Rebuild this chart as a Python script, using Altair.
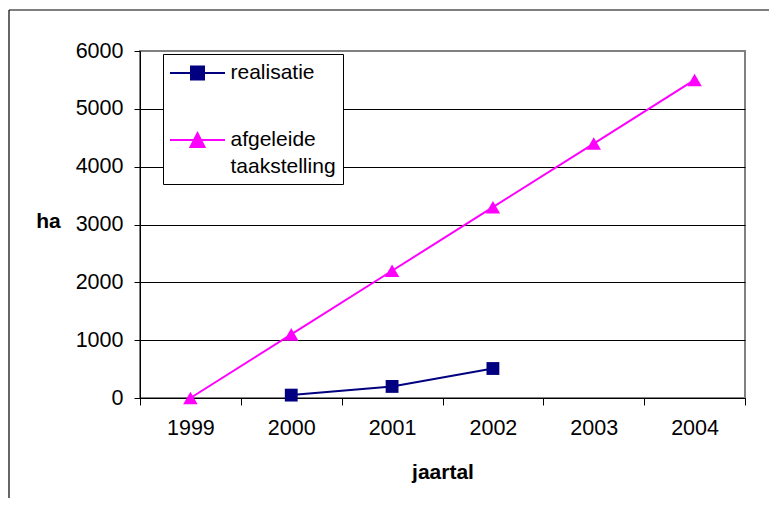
import altair as alt
import pandas as pd

years = ["1999", "2000", "2001", "2002", "2003", "2004"]
realisatie = [None, 50, 200, 510, None, None]
afgeleide = [0, 1100, 2200, 3300, 4400, 5500]
series_names = ["realisatie", "afgeleide taakstelling"]
series_colors = ["#000080", "#FF00FF"]
legend_shapes = [
    "M-2.5,0H2.5M-0.59,-0.59H0.59V0.59H-0.59Z",
    "M-2.5,0H2.5M-0.64,0.64L0,-0.61L0.64,0.64Z",
]
y_ticks = [0, 1000, 2000, 3000, 4000, 5000, 6000]

rows = []
for yr, v in zip(years, realisatie):
    if v is not None:
        rows.append({"jaar": yr, "ha": v, "reeks": "realisatie"})
for yr, v in zip(years, afgeleide):
    if v is not None:
        rows.append({"jaar": yr, "ha": v, "reeks": "afgeleide taakstelling"})
df = pd.DataFrame(rows)

FONT = "Liberation Sans"

x_enc = alt.X(
    "jaar:N",
    scale=alt.Scale(type="band", domain=years, paddingInner=0, paddingOuter=0),
    bandPosition=0.5,
    axis=alt.Axis(
        title="jaartal",
        tickBand="extent",
        labelAngle=0,
        tickSize=7,
        labelPadding=29,
        labelBaseline="alphabetic",
        titleY=80,
        titleBaseline="alphabetic",
    ),
)
y_enc = alt.Y(
    "ha:Q",
    scale=alt.Scale(domain=[0, 6000], nice=False, zero=True),
    axis=alt.Axis(
        title="ha",
        values=y_ticks,
        format="d",
        tickSize=6,
        labelPadding=11,
        titleAngle=0,
        titleX=-92,
        titleY=170,
        titleAlign="center",
        titleBaseline="middle",
        gridColor=alt.condition("datum.value == 6000", alt.value("#808080"), alt.value("#000000")),
    ),
)

leg = alt.Legend(
    title=None,
    orient="none",
    legendX=23,
    legendY=3,
    labelExpr="datum.label == 'afgeleide taakstelling' ? ['afgeleide', 'taakstelling'] : datum.label",
    labelFont=FONT,
    labelFontSize=21,
    labelColor="black",
    labelOffset=21,
    labelLimit=400,
    symbolStrokeWidth=2,
    symbolSize=484,
    symbolOffset=15.5,
    symbolOpacity=1,
    padding=7,
    rowPadding=44,
    strokeColor="black",
    fillColor="white",
)

lines = alt.Chart(df).mark_line(strokeWidth=2).encode(
    x=x_enc,
    y=y_enc,
    color=alt.Color("reeks:N", scale=alt.Scale(domain=series_names, range=series_colors), legend=leg),
    detail="reeks:N",
)

pts_real = alt.Chart(df).transform_filter("datum.reeks == 'realisatie'").mark_point(
    shape="square", filled=True, size=165, opacity=1, color="#000080"
).encode(x=x_enc, y=y_enc)

pts_afg = alt.Chart(df).transform_filter("datum.reeks == 'afgeleide taakstelling'").mark_point(
    shape="triangle-up", filled=True, size=210, opacity=1, color="#FF00FF"
).encode(x=x_enc, y=y_enc)

legend_layer = alt.Chart(df).mark_point(filled=False, opacity=0).encode(
    x=x_enc,
    y=y_enc,
    fill=alt.Fill("reeks:N", scale=alt.Scale(domain=series_names, range=series_colors), legend=leg),
    stroke=alt.Stroke("reeks:N", scale=alt.Scale(domain=series_names, range=series_colors), legend=leg),
    shape=alt.Shape("reeks:N", scale=alt.Scale(domain=series_names, range=legend_shapes), legend=leg),
)

frame_df = pd.DataFrame({"k": [0]})
border_left = alt.Chart(frame_df).mark_rule(color="black", strokeWidth=1.2).encode(
    x=alt.value(-131), y=alt.value(-41), y2=alt.value(520)
)
border_top = alt.Chart(frame_df).mark_rule(color="black", strokeWidth=1.2).encode(
    x=alt.value(-131), x2=alt.value(700), y=alt.value(-41)
)

chart = alt.layer(lines, pts_real, pts_afg, legend_layer, border_left, border_top).properties(
    width=605,
    height=347,
    autosize=alt.AutoSizeParams(type="none"),
    padding={"left": 132, "top": 43, "right": 24, "bottom": 100},
).configure(
    font=FONT,
    style={"guide-label": {"lineHeight": 27}},
).configure_axis(
    labelFont=FONT,
    titleFont=FONT,
    labelFontSize=21.5,
    titleFontSize=21,
    titleFontWeight="bold",
    labelColor="black",
    titleColor="black",
    tickColor="black",
    domainColor="black",
    gridColor="black",
    gridOpacity=1,
    domainWidth=1,
    tickWidth=1,
).configure_axisX(grid=False).configure_view(
    stroke="#808080", strokeWidth=2
)

chart.save("out.html", embed_options={"renderer": "svg", "actions": False})
